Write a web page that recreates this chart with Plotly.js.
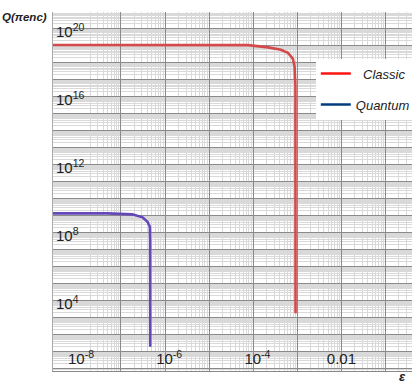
<!DOCTYPE html>
<html>
<head>
<meta charset="utf-8">
<script src="https://cdn.plot.ly/plotly-3.0.1.min.js"></script>
<style>html,body{margin:0;padding:0;background:#fff;}#chart{width:415px;height:385px;}</style>
</head>
<body>
<div id="chart"></div>
<script>
// Classic curve (epsilon, Q)
const classicEps = [1e-9, 1e-7, 1e-5, 7.7e-5, 2.17e-4, 4.26e-4, 6.1e-4, 7.9e-4, 8.66e-4, 9.05e-4, 9.1e-4];
const classicQ   = [1.15e19, 1.15e19, 1.15e19, 1.12e19, 8.2e18, 6.0e18, 4.0e18, 1.78e18, 6.2e17, 4.1e16, 1.8e3];
// Quantum curve (epsilon, Q)
const quantumEps = [1e-9, 1e-8, 5e-8, 1.81e-7, 3.09e-7, 4.0e-7, 4.53e-7, 4.6e-7, 4.62e-7];
const quantumQ   = [1.38e9, 1.38e9, 1.36e9, 1.2e9, 8.0e8, 4.4e8, 2.24e8, 3.6e7, 19];
const seriesNames = ['Classic', 'Quantum'];
// Labelled ticks
const xTickVals = [1e-8, 1e-6, 1e-4, 1e-2];
const xTickText = ['\u00a0\u00a010<sup>-8</sup>', '\u00a0\u00a010<sup>-6</sup>', '\u00a0\u00a010<sup>-4</sup>', '0.01'];
const yTickVals = [1e4, 1e8, 1e12, 1e16, 1e20];
const yTickText = ['10<sup>4</sup>', '10<sup>8</sup>', '10<sup>12</sup>', '10<sup>16</sup>', '10<sup>20</sup>'];
// Decade grid positions (dark lines)
const xDecades = [1e-9, 1e-8, 1e-7, 1e-6, 1e-5, 1e-4, 1e-3, 1e-2, 1e-1];
const yDecades = [1, 1e1, 1e2, 1e3, 1e4, 1e5, 1e6, 1e7, 1e8, 1e9, 1e10, 1e11, 1e12, 1e13, 1e14, 1e15, 1e16, 1e17, 1e18, 1e19, 1e20, 1e21];
const axisTitleY = 'Q(πenc)';
const axisTitleX = 'ε';

const xRange = [-8.54, -0.4];
const yRange = [-0.15, 21];

const traces = [
  {x: [null], y: [null], xaxis: 'x2', yaxis: 'y2', showlegend: false, hoverinfo: 'skip', mode: 'lines'},
  {x: classicEps, y: classicQ, mode: 'lines', line: {color: '#d44a4a', width: 2.6}, showlegend: false, hoverinfo: 'skip'},
  {x: quantumEps, y: quantumQ, mode: 'lines', line: {color: '#6447b8', width: 2.6}, showlegend: false, hoverinfo: 'skip'},
  {x: [null], y: [null], mode: 'lines', name: '\u00a0\u00a0' + seriesNames[0], line: {color: '#ff1414', width: 2.5}, legendgroup: 'a'},
  {x: [null], y: [null], mode: 'lines', name: seriesNames[1], line: {color: '#003c7d', width: 2.5}, legendgroup: 'b'}
];

const gridMajor = '#8a8a8a';
const gridMinor = '#d9d9d9';

const layout = {
  width: 415, height: 385,
  margin: {l: 53, r: 0, t: 12, b: 14, pad: 0},
  paper_bgcolor: '#fff', plot_bgcolor: '#fff',
  font: {family: 'Liberation Sans, Arial, sans-serif', color: '#222', size: 15},
  xaxis: {
    type: 'log', range: xRange, anchor: 'y',
    tickmode: 'array', tickvals: xDecades, showticklabels: false, ticks: '',
    showgrid: true, gridcolor: gridMajor, gridwidth: 1,
    minor: {dtick: 'D1', showgrid: true, gridcolor: gridMinor, ticks: ''},
    showline: true, linecolor: '#888', linewidth: 1, zeroline: false
  },
  xaxis2: {
    type: 'log', range: xRange, overlaying: 'x', anchor: 'y2',
    tickmode: 'array', tickvals: xTickVals, ticktext: xTickText,
    ticklabelposition: 'outside', ticklabelstandoff: -23, ticks: '',
    showgrid: false, showline: false, zeroline: false,
    tickfont: {size: 15, color: '#222'}
  },
  yaxis: {
    type: 'log', range: yRange, anchor: 'x',
    tickmode: 'array', tickvals: yTickVals, ticktext: yTickText,
    ticklabelposition: 'inside', ticklabelstandoff: 3, ticklabelshift: 3, ticks: '',
    showgrid: true, gridcolor: gridMajor, gridwidth: 1,
    minor: {dtick: 'D1', showgrid: true, gridcolor: gridMinor, ticks: ''},
    showline: true, linecolor: '#aaa', linewidth: 1,
    zeroline: false, tickfont: {size: 15, color: '#222'}
  },
  yaxis2: {
    type: 'log', range: yRange, overlaying: 'y', anchor: 'x2',
    tickmode: 'array', tickvals: yDecades, showticklabels: false, ticks: '',
    showgrid: true, gridcolor: gridMajor, gridwidth: 1, showline: false, zeroline: false
  },
  legend: {
    x: 0.732, y: 0.87, xanchor: 'left', yanchor: 'top',
    bgcolor: '#fff', borderwidth: 0, tracegroupgap: 11,
    font: {size: 13, style: 'italic', color: '#222'}
  },
  annotations: [
    {text: '<b><i>' + axisTitleY + '</i></b>', xref: 'paper', yref: 'paper', x: -0.012, y: 0.986, xanchor: 'right', yanchor: 'middle', showarrow: false, font: {size: 11.5, color: '#222'}},
    {text: '<b><i>' + axisTitleX + '</i></b>', xref: 'paper', yref: 'paper', x: 0.99, y: -0.016, xanchor: 'right', yanchor: 'middle', showarrow: false, font: {size: 13, color: '#222'}}
  ]
};

Plotly.newPlot('chart', traces, layout, {staticPlot: true, displayModeBar: false});
</script>
</body>
</html>
